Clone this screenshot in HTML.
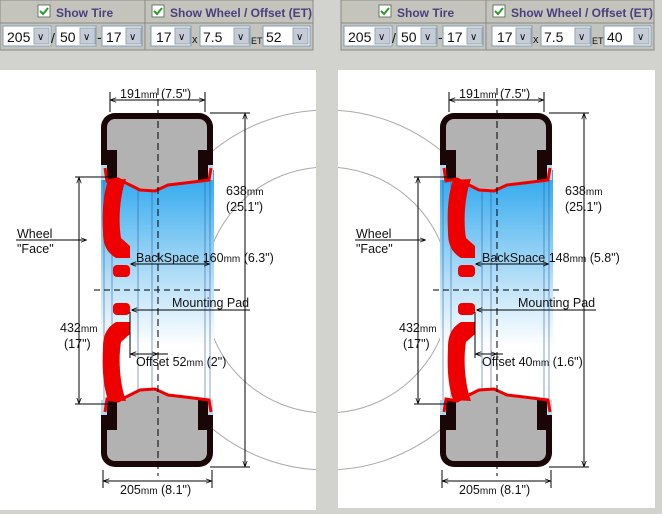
<!DOCTYPE html>
<html><head><meta charset="utf-8"><style>
html,body{margin:0;padding:0;width:662px;height:514px;overflow:hidden;background:#d2d2ce;}
svg{display:block}
text{font-family:"Liberation Sans",sans-serif;fill:#111;}
.h{font-weight:bold;fill:#4b3f7e;font-size:12px}
.s{font-size:14px}
.t{font-size:12.5px}
.m{font-size:10px}
</style></head><body>
<svg width="662" height="514" viewBox="0 0 662 514" xmlns="http://www.w3.org/2000/svg">
<defs>
<linearGradient id="bl" x1="0" y1="0" x2="0" y2="1">
<stop offset="0" stop-color="#2aa6ee"/><stop offset="0.5" stop-color="#bfe3f8"/><stop offset="0.75" stop-color="#ffffff"/><stop offset="1" stop-color="#ffffff"/>
</linearGradient>
<marker id="a" viewBox="0 0 8 8" refX="7" refY="4" markerWidth="6" markerHeight="6" orient="auto-start-reverse"><path d="M0,1 L8,4 L0,7" fill="none" stroke="#000" stroke-width="1"/></marker>
<clipPath id="cl"><rect x="0" y="70" width="316" height="440"/></clipPath>
<clipPath id="cr"><rect x="338" y="70" width="317" height="438"/></clipPath>
<g id="tire">
<rect x="101" y="113" width="112" height="60" rx="14" fill="#1a0606"/>
<rect x="107" y="119" width="100" height="50" rx="8" fill="#b2b2b2"/>
<polygon points="117,165 198,165 198,180 185,183 168,185 155,191 140,190 130,185 117,179" fill="#b2b2b2"/>
<rect x="101" y="150" width="16" height="30" fill="#1a0606"/>
<rect x="198" y="150" width="15" height="30" fill="#1a0606"/>
<rect x="101" y="165" width="6" height="15" fill="#b8d8ee"/>
<rect x="208" y="165" width="5" height="15" fill="#b8d8ee"/>
<polyline points="105,168 107,181 118,179 130,185 140,190 155,191 168,185 185,183 209,180 211,168" fill="none" stroke="#ee0000" stroke-width="3"/>
</g>
<g id="spoke">
<path d="M108,180 L126,179 C120,195 118,220 121,238 L130,246 L130,258 L116,258 C106,252 103,244 103,232 C102,212 103,195 108,180 Z" fill="#ee0000"/>
<rect x="113" y="265" width="17" height="12" rx="4" fill="#ee0000"/>
</g>
</defs>

<!-- header left -->
<rect x="0" y="0" width="313" height="50" fill="#c4c4bc" stroke="#8a8a86"/>
<line x1="0" y1="23" x2="313" y2="23" stroke="#8a8a86"/>
<line x1="145" y1="0" x2="145" y2="50" stroke="#8a8a86"/>
<rect x="38" y="5" width="12" height="12" fill="#fff" stroke="#6a7a6a"/><path d="M40,11 l3,3 l5,-6" stroke="#2a9a2a" stroke-width="2" fill="none"/>
<text x="56" y="17" class="h">Show Tire</text>
<rect x="152" y="5" width="12" height="12" fill="#fff" stroke="#6a7a6a"/><path d="M154,11 l3,3 l5,-6" stroke="#2a9a2a" stroke-width="2" fill="none"/>
<text x="170" y="17" class="h">Show Wheel / Offset (ET)</text>
<g fill="#fff" stroke="#7f9db9">
<rect x="3" y="26" width="48" height="20"/><rect x="56" y="26" width="40" height="20"/><rect x="102" y="26" width="40" height="20"/>
<rect x="151" y="26" width="40" height="20"/><rect x="200" y="26" width="50" height="20"/><rect x="263" y="26" width="47" height="20"/>
</g>
<g fill="#c6cbd8" stroke="#9aa"><rect x="34" y="28" width="15" height="16"/><rect x="80" y="28" width="15" height="16"/><rect x="126" y="28" width="15" height="16"/><rect x="175" y="28" width="15" height="16"/><rect x="234" y="28" width="15" height="16"/><rect x="293" y="28" width="15" height="16"/></g>
<g font-size="10" fill="#333"><text x="37" y="40">∨</text><text x="83" y="40">∨</text><text x="129" y="40">∨</text><text x="178" y="40">∨</text><text x="237" y="40">∨</text><text x="296" y="40">∨</text></g>
<text x="7" y="42" class="s">205</text><text x="51" y="43" class="s">/</text><text x="60" y="42" class="s">50</text><text x="97" y="42" class="s">-</text><text x="106" y="42" class="s">17</text>
<text x="156" y="42" class="s">17</text><text x="192" y="43" font-size="11">x</text><text x="203" y="42" class="s">7.5</text><text x="251" y="44" font-size="9">ET</text><text x="266" y="42" class="s">52</text>

<!-- header right -->
<rect x="341" y="0" width="313" height="50" fill="#c4c4bc" stroke="#8a8a86"/>
<line x1="341" y1="23" x2="654" y2="23" stroke="#8a8a86"/>
<line x1="486" y1="0" x2="486" y2="50" stroke="#8a8a86"/>
<rect x="379" y="5" width="12" height="12" fill="#fff" stroke="#6a7a6a"/><path d="M381,11 l3,3 l5,-6" stroke="#2a9a2a" stroke-width="2" fill="none"/>
<text x="397" y="17" class="h">Show Tire</text>
<rect x="493" y="5" width="12" height="12" fill="#fff" stroke="#6a7a6a"/><path d="M495,11 l3,3 l5,-6" stroke="#2a9a2a" stroke-width="2" fill="none"/>
<text x="511" y="17" class="h">Show Wheel / Offset (ET)</text>
<g transform="translate(341,0)">
<g fill="#fff" stroke="#7f9db9">
<rect x="3" y="26" width="48" height="20"/><rect x="56" y="26" width="40" height="20"/><rect x="102" y="26" width="40" height="20"/>
<rect x="151" y="26" width="40" height="20"/><rect x="200" y="26" width="50" height="20"/><rect x="263" y="26" width="47" height="20"/>
</g>
<g fill="#c6cbd8" stroke="#9aa"><rect x="34" y="28" width="15" height="16"/><rect x="80" y="28" width="15" height="16"/><rect x="126" y="28" width="15" height="16"/><rect x="175" y="28" width="15" height="16"/><rect x="234" y="28" width="15" height="16"/><rect x="293" y="28" width="15" height="16"/></g>
<g font-size="10" fill="#333"><text x="37" y="40">∨</text><text x="83" y="40">∨</text><text x="129" y="40">∨</text><text x="178" y="40">∨</text><text x="237" y="40">∨</text><text x="296" y="40">∨</text></g>
<text x="7" y="42" class="s">205</text><text x="51" y="43" class="s">/</text><text x="60" y="42" class="s">50</text><text x="97" y="42" class="s">-</text><text x="106" y="42" class="s">17</text>
<text x="156" y="42" class="s">17</text><text x="192" y="43" font-size="11">x</text><text x="203" y="42" class="s">7.5</text><text x="251" y="44" font-size="9">ET</text><text x="266" y="42" class="s">40</text>
</g>

<!-- panels -->
<rect x="0" y="70" width="316" height="440" fill="#fff"/>
<rect x="338" y="70" width="317" height="438" fill="#fff"/>
<g clip-path="url(#cl)" fill="none" stroke="#aaa"><circle cx="327" cy="290" r="180"/><circle cx="327" cy="290" r="123"/></g>
<g clip-path="url(#cr)" fill="none" stroke="#aaa"><circle cx="327" cy="290" r="180"/><circle cx="327" cy="290" r="123"/></g>

<!-- LEFT DIAGRAM -->
<g>
<rect x="101" y="170" width="113" height="235" fill="url(#bl)"/>
<g stroke="#2a5aa8" stroke-width="0.8" opacity="0.7"><line x1="104" y1="172" x2="104" y2="405"/><line x1="112" y1="172" x2="112" y2="405"/><line x1="138" y1="185" x2="138" y2="400"/><line x1="152" y1="185" x2="152" y2="400"/><line x1="205" y1="172" x2="205" y2="405"/><line x1="210" y1="172" x2="210" y2="405"/></g>
<use href="#tire"/><use href="#tire" transform="matrix(1,0,0,-1,0,580)"/>
<use href="#spoke"/><use href="#spoke" transform="matrix(1,0,0,-1,0,580)"/>
<line x1="158" y1="88" x2="158" y2="476" stroke="#000" stroke-dasharray="7,4"/>
<line x1="94" y1="290" x2="220" y2="290" stroke="#000" stroke-dasharray="6,4"/>
<g stroke="#000" fill="none">
<line x1="110" y1="92" x2="110" y2="112"/><line x1="205" y1="92" x2="205" y2="112"/>
<line x1="111" y1="100" x2="204" y2="100" marker-start="url(#a)" marker-end="url(#a)"/>
<line x1="210" y1="113" x2="250" y2="113"/><line x1="210" y1="467" x2="250" y2="467"/>
<line x1="245" y1="114" x2="245" y2="466" marker-start="url(#a)" marker-end="url(#a)"/>
<line x1="75" y1="177" x2="112" y2="177"/><line x1="75" y1="404" x2="112" y2="404"/>
<line x1="79" y1="178" x2="79" y2="403" marker-start="url(#a)" marker-end="url(#a)"/>
<line x1="16" y1="240" x2="86" y2="240" marker-end="url(#a)"/>
<line x1="131" y1="264" x2="209" y2="264" marker-start="url(#a)" marker-end="url(#a)"/>
<line x1="250" y1="310" x2="132" y2="310" marker-end="url(#a)"/>
<line x1="130" y1="312" x2="130" y2="358"/>
<line x1="131" y1="354" x2="157" y2="354" marker-start="url(#a)" marker-end="url(#a)"/><line x1="157" y1="354" x2="168" y2="354"/>
<line x1="103" y1="470" x2="103" y2="488"/><line x1="212" y1="470" x2="212" y2="488"/>
<line x1="104" y1="481" x2="211" y2="481" marker-start="url(#a)" marker-end="url(#a)"/>
</g>
<text x="120" y="98" class="t">191<tspan class="m">mm</tspan> (7.5")</text>
<text x="226" y="195" class="t">638<tspan class="m">mm</tspan></text>
<text x="226" y="211" class="t">(25.1")</text>
<text x="17" y="238" class="t">Wheel</text><text x="17" y="253" class="t">"Face"</text>
<text x="136" y="262" class="t">BackSpace 160<tspan class="m">mm</tspan> (6.3")</text>
<text x="172" y="307" class="t">Mounting Pad</text>
<text x="60" y="332" class="t">432<tspan class="m">mm</tspan></text>
<text x="64" y="348" class="t">(17")</text>
<text x="136" y="366" class="t">Offset 52<tspan class="m">mm</tspan> (2")</text>
<text x="120" y="494" class="t">205<tspan class="m">mm</tspan> (8.1")</text>
</g>

<!-- RIGHT DIAGRAM -->
<g transform="translate(339,0)">
<rect x="101" y="170" width="113" height="235" fill="url(#bl)"/>
<g stroke="#2a5aa8" stroke-width="0.8" opacity="0.7"><line x1="104" y1="172" x2="104" y2="405"/><line x1="112" y1="172" x2="112" y2="405"/><line x1="143" y1="185" x2="143" y2="400"/><line x1="152" y1="185" x2="152" y2="400"/><line x1="205" y1="172" x2="205" y2="405"/><line x1="210" y1="172" x2="210" y2="405"/></g>
<use href="#tire"/><use href="#tire" transform="matrix(1,0,0,-1,0,580)"/>
<use href="#spoke" transform="translate(6,0)"/><use href="#spoke" transform="matrix(1,0,0,-1,6,580)"/>
<line x1="158" y1="88" x2="158" y2="476" stroke="#000" stroke-dasharray="7,4"/>
<line x1="94" y1="290" x2="220" y2="290" stroke="#000" stroke-dasharray="6,4"/>
<g stroke="#000" fill="none">
<line x1="110" y1="92" x2="110" y2="112"/><line x1="205" y1="92" x2="205" y2="112"/>
<line x1="111" y1="100" x2="204" y2="100" marker-start="url(#a)" marker-end="url(#a)"/>
<line x1="210" y1="113" x2="250" y2="113"/><line x1="210" y1="467" x2="250" y2="467"/>
<line x1="245" y1="114" x2="245" y2="466" marker-start="url(#a)" marker-end="url(#a)"/>
<line x1="75" y1="177" x2="112" y2="177"/><line x1="75" y1="404" x2="112" y2="404"/>
<line x1="79" y1="178" x2="79" y2="403" marker-start="url(#a)" marker-end="url(#a)"/>
<line x1="16" y1="240" x2="86" y2="240" marker-end="url(#a)"/>
<line x1="137" y1="264" x2="209" y2="264" marker-start="url(#a)" marker-end="url(#a)"/>
<line x1="257" y1="310" x2="138" y2="310" marker-end="url(#a)"/>
<line x1="136" y1="312" x2="136" y2="358"/>
<line x1="137" y1="354" x2="157" y2="354" marker-start="url(#a)" marker-end="url(#a)"/><line x1="157" y1="354" x2="164" y2="354"/>
<line x1="103" y1="470" x2="103" y2="488"/><line x1="212" y1="470" x2="212" y2="488"/>
<line x1="104" y1="481" x2="211" y2="481" marker-start="url(#a)" marker-end="url(#a)"/>
</g>
<text x="120" y="98" class="t">191<tspan class="m">mm</tspan> (7.5")</text>
<text x="226" y="195" class="t">638<tspan class="m">mm</tspan></text>
<text x="226" y="211" class="t">(25.1")</text>
<text x="17" y="238" class="t">Wheel</text><text x="17" y="253" class="t">"Face"</text>
<text x="143" y="262" class="t">BackSpace 148<tspan class="m">mm</tspan> (5.8")</text>
<text x="179" y="307" class="t">Mounting Pad</text>
<text x="60" y="332" class="t">432<tspan class="m">mm</tspan></text>
<text x="64" y="348" class="t">(17")</text>
<text x="143" y="366" class="t">Offset 40<tspan class="m">mm</tspan> (1.6")</text>
<text x="120" y="494" class="t">205<tspan class="m">mm</tspan> (8.1")</text>
</g>
</svg>
</body></html>
